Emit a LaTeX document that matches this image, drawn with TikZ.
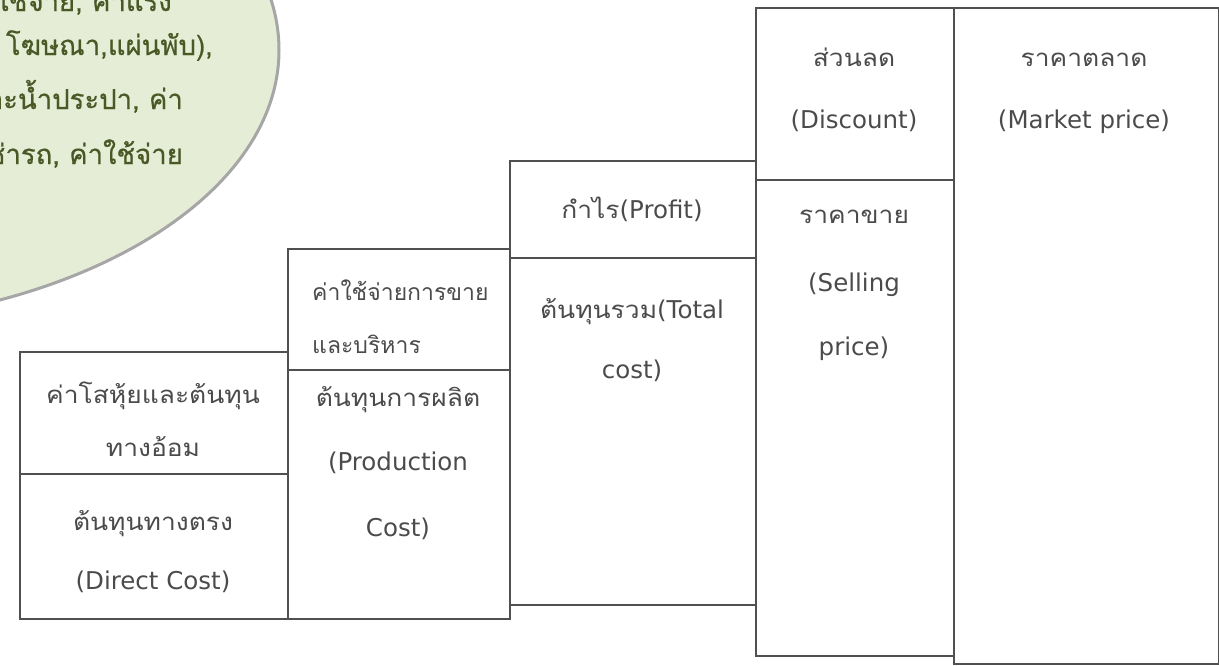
\documentclass[tikz,border=0pt]{standalone}
\usepackage{fontspec}
\setmainfont{DejaVu Sans}
\newfontfamily\thai[Script=Thai,FakeStretch=1.1]{Loma}
\newfontfamily\thainarrow[Script=Thai]{Loma}
\newfontfamily\thaibub[Script=Thai,FakeBold=0.6]{Loma}
\definecolor{bubblefill}{RGB}{230,237,214}
\definecolor{bubbleline}{RGB}{166,166,166}
\definecolor{bubbletext}{RGB}{74,88,38}
\definecolor{boxline}{RGB}{80,80,80}
\definecolor{boxtext}{RGB}{75,75,75}
\tikzset{
  cell/.style={draw=boxline, line width=1.8pt, rectangle, inner sep=0pt, anchor=north west},
  btxt/.style={text=bubbletext, font=\thaibub\fontsize{27.5}{27.5}\selectfont, inner sep=0pt, anchor=base east},
  ctxt/.style={text=boxtext, font=\fontsize{24.5}{24.5}\selectfont, inner sep=0pt, anchor=base},
  ltxt/.style={text=boxtext, font=\fontsize{24.5}{24.5}\selectfont, inner sep=0pt, anchor=base west},
  th/.style={font=\thai\fontsize{24}{24}\selectfont},
  thn/.style={font=\thainarrow\fontsize{23}{23}\selectfont},
}
\begin{document}
\begin{tikzpicture}[x=1pt,y=-1pt]
\useasboundingbox (0,0) rectangle (1219,665);
\clip (0,0) rectangle (1219,665);
% speech bubble
\draw[bubbleline, line width=3pt, fill=bubblefill] (-200,50) ellipse [x radius=479pt, y radius=275pt];
\node[btxt] (b1) at (172,11) {ค่าใช้จ่าย, ค่าแรง};
\node[btxt] (b2) at (213,55) {โฆษณา,แผ่นพับ),};
\node[btxt] (b3) at (183,109) {และน้ำประปา, ค่า};
\node[btxt] (b4) at (183,164) {เช่ารถ, ค่าใช้จ่าย};
% box 1
\node[cell, minimum width=268pt, minimum height=122pt] (c1a) at (19,351) {};
\node[cell, minimum width=268pt, minimum height=145pt] (c1b) at (19,473) {};
\node[ctxt, th] (t1a) at (153,403) {ค่าโสหุ้ยและต้นทุน};
\node[ctxt, th] (t1b) at (153,456) {ทางอ้อม};
\node[ctxt, th] (t1c) at (153,530) {ต้นทุนทางตรง};
\node[ctxt] (t1d) at (153,589) {(Direct Cost)};
% box 2
\node[cell, minimum width=222pt, minimum height=121pt] (c2a) at (287,248) {};
\node[cell, minimum width=222pt, minimum height=249pt] (c2b) at (287,369) {};
\node[ltxt, thn] (t2a) at (312,300) {ค่าใช้จ่ายการขาย};
\node[ltxt, thn] (t2b) at (312,353) {และบริหาร};
\node[ctxt, th] (t2c) at (398,406) {ต้นทุนการผลิต};
\node[ctxt] (t2d) at (398,470) {(Production};
\node[ctxt] (t2e) at (398,536) {Cost)};
% box 3
\node[cell, minimum width=246pt, minimum height=97pt] (c3a) at (509,160) {};
\node[cell, minimum width=246pt, minimum height=347pt] (c3b) at (509,257) {};
\node[ctxt] (t3a) at (632,218) {{\thai\fontsize{24}{24}\selectfont กำไร}(Profit)};
\node[ctxt] (t3b) at (632,318) {{\thai\fontsize{24}{24}\selectfont ต้นทุนรวม}(Total};
\node[ctxt] (t3c) at (632,378) {cost)};
% box 4
\node[cell, minimum width=198pt, minimum height=172pt] (c4a) at (755,7) {};
\node[cell, minimum width=198pt, minimum height=476pt] (c4b) at (755,179) {};
\node[ctxt, th] (t4a) at (854,66) {ส่วนลด};
\node[ctxt] (t4b) at (854,128) {(Discount)};
\node[ctxt, th] (t4c) at (854,223) {ราคาขาย};
\node[ctxt] (t4d) at (854,291) {(Selling};
\node[ctxt] (t4e) at (854,355) {price)};
% box 5
\node[cell, minimum width=265pt, minimum height=656pt] (c5) at (953,7) {};
\node[ctxt, th] (t5a) at (1084,66) {ราคาตลาด};
\node[ctxt] (t5b) at (1084,128) {(Market price)};
\end{tikzpicture}
\end{document}
